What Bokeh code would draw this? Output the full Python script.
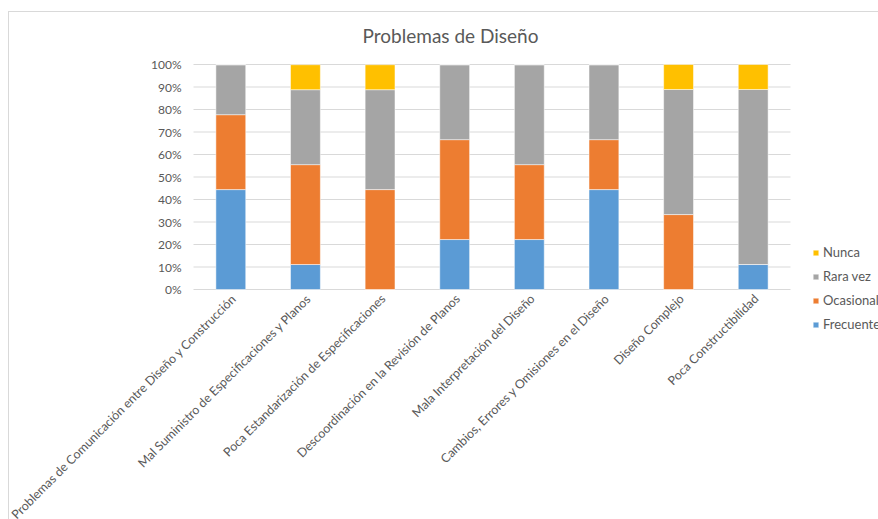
from bokeh.plotting import figure
from bokeh.models import Range1d, Legend, LegendItem, Label, ColumnDataSource
from bokeh.core.properties import value
from bokeh.embed import file_html
from bokeh.resources import INLINE
import math

# Survey results: share of answers per design problem (%)
categories = [
    "Problemas de Comunicación entre Diseño y Construcción",
    "Mal Suministro de Especificaciones y Planos",
    "Poca Estandarización de Especificaciones",
    "Descoordinación en la Revisión de Planos",
    "Mala Interpretación del Diseño",
    "Cambios, Errores y Omisiones en el Diseño",
    "Diseño Complejo",
    "Poca Constructibilidad",
]
frecuente = [44.4, 11.1, 0.0, 22.2, 22.2, 44.4, 0.0, 11.1]
ocasional = [33.3, 44.4, 44.4, 44.4, 33.3, 22.2, 33.3, 0.0]
rara_vez = [22.2, 33.3, 44.4, 33.3, 44.4, 33.3, 55.6, 77.8]
nunca = [0.0, 11.1, 11.1, 0.0, 0.0, 0.0, 11.1, 11.1]

series = ["Frecuente", "Ocasional", "Rara vez", "Nunca"]
colors = ["#5B9BD5", "#ED7D31", "#A5A5A5", "#FFC000"]
y_ticks = [0, 10, 20, 30, 40, 50, 60, 70, 80, 90, 100]
y_tick_labels = [f"{t}%" for t in y_ticks]

FONT = value("Lato")
TEXT = "#595959"
GRID = "#d9d9d9"

# Canvas geometry (pixels): the plotting area sits inside a larger canvas
# so that the legend, title and rotated labels all share one frame.
W, H = 884, 520
AREA_LEFT, AREA_RIGHT = 184, 781      # plotting area, from canvas left
AREA_TOP, AREA_BOTTOM = 52, 277       # plotting area, from canvas top
n = len(categories)
slot = (AREA_RIGHT - AREA_LEFT) / n
unit = (AREA_BOTTOM - AREA_TOP) / 100.0
x_start = -0.5 - AREA_LEFT / slot
y_start = -(H - AREA_BOTTOM) / unit

p = figure(
    x_range=Range1d(x_start, x_start + W / slot),
    y_range=Range1d(y_start, y_start + H / unit),
    width=W, height=H,
    output_backend="svg", toolbar_location=None,
    min_border=0, outline_line_color=None,
    margin=(11, 0, 0, 8),
    styles={"border": "1px solid #d9d9d9"},
)
p.axis.visible = False
p.grid.visible = False

xs = list(range(n))
data = ColumnDataSource(dict(x=xs, cat=categories, base=[0] * n,
                             Frecuente=frecuente, Ocasional=ocasional,
                             **{"Rara vez": rara_vez}, Nunca=nunca))

# horizontal gridlines (value axis)
p.segment(x0=-0.5, x1=n - 0.5, y0=y_ticks, y1=y_ticks,
          line_color=GRID, line_width=1)

renderers = p.vbar_stack(series, x="x", width=0.40, color=colors,
                         line_color="white", line_width=0.5, source=data)

# value-axis labels
p.text(x=[-0.5] * len(y_ticks), y=y_ticks, text=y_tick_labels,
       x_offset=-12, text_align="right", text_baseline="middle",
       text_font=FONT, text_font_size="12px", text_color=TEXT)

# category labels, rotated 45 degrees
p.text(x="x", y="base", text="cat", source=data,
       angle=math.pi / 4, x_offset=3, y_offset=7,
       text_align="right", text_baseline="middle",
       text_font=FONT, text_font_size="12.4px", text_color=TEXT)

title = Label(x=441, y=H - 23, x_units="screen", y_units="screen",
              text="Problemas de Diseño", text_align="center",
              text_baseline="middle", text_font="Lato",
              text_font_size="19px", text_color=TEXT)
p.add_layout(title)

items = [LegendItem(label=s, renderers=[r]) for s, r in zip(series, renderers)]
legend = Legend(items=list(reversed(items)), location=(803, H - 322),
                orientation="vertical", background_fill_alpha=0,
                border_line_color=None, glyph_width=7, glyph_height=7,
                label_text_font="Lato", label_text_font_size="13px",
                label_text_color=TEXT, label_height=20, spacing=4,
                padding=0, margin=0, label_standoff=4)
p.add_layout(legend, "center")

open("out.html", "w").write(file_html(p, INLINE))
